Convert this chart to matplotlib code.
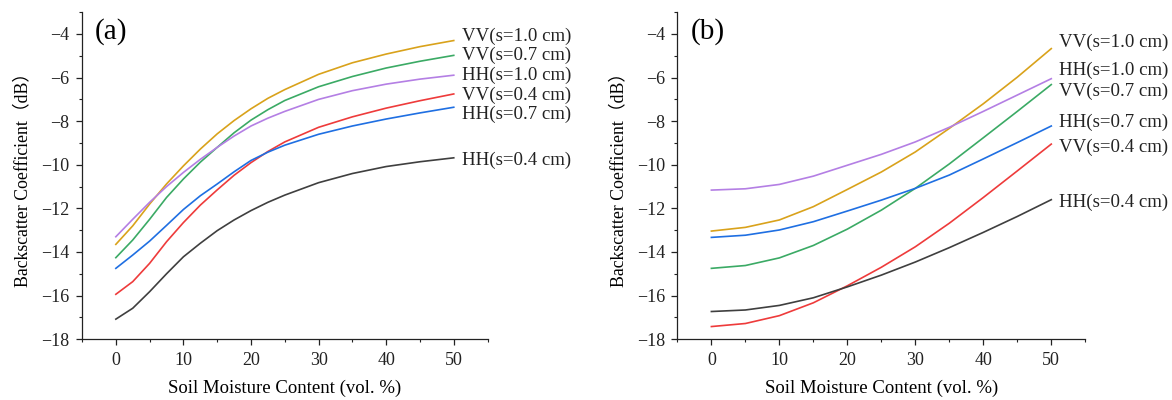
import matplotlib
matplotlib.use("Agg")
import matplotlib.pyplot as plt
from matplotlib.ticker import MultipleLocator

plt.rcParams['font.family'] = ['Liberation Serif', 'Noto Sans CJK SC', 'DejaVu Sans']
plt.rcParams['axes.unicode_minus'] = True

# ---- data: panel (a) ----
x_a = [0, 2.5, 5, 7.5, 10, 12.5, 15, 17.5, 20, 22.5, 25, 30, 35, 40, 45, 50]
vv10_a = [-13.65, -12.8, -11.8, -10.88, -10.05, -9.28, -8.58, -7.97, -7.43, -6.95, -6.55, -5.85, -5.32, -4.92, -4.58, -4.3]
vv07_a = [-14.26, -13.45, -12.5, -11.5, -10.65, -9.88, -9.2, -8.53, -7.95, -7.47, -7.05, -6.42, -5.95, -5.56, -5.25, -4.98]
hh10_a = [-13.3, -12.5, -11.72, -11.0, -10.35, -9.75, -9.2, -8.68, -8.22, -7.86, -7.55, -7.0, -6.6, -6.3, -6.07, -5.89]
vv04_a = [-15.94, -15.36, -14.52, -13.53, -12.65, -11.85, -11.15, -10.48, -9.9, -9.39, -8.95, -8.28, -7.8, -7.4, -7.06, -6.75]
hh07_a = [-14.75, -14.14, -13.5, -12.78, -12.05, -11.42, -10.88, -10.32, -9.8, -9.42, -9.1, -8.6, -8.22, -7.9, -7.62, -7.36]
hh04_a = [-17.08, -16.58, -15.82, -15.0, -14.22, -13.6, -13.02, -12.53, -12.1, -11.72, -11.39, -10.82, -10.4, -10.08, -9.86, -9.68]

# ---- data: panel (b) ----
x_b = [0, 5, 10, 15, 20, 25, 30, 35, 40, 45, 50]
vv10_b = [-13.04, -12.87, -12.53, -11.92, -11.13, -10.33, -9.41, -8.33, -7.2, -5.98, -4.67]
hh10_b = [-11.16, -11.1, -10.9, -10.52, -10.02, -9.52, -8.95, -8.28, -7.55, -6.8, -6.05]
vv07_b = [-14.75, -14.62, -14.27, -13.7, -12.95, -12.08, -11.08, -9.96, -8.76, -7.55, -6.32]
hh07_b = [-13.33, -13.23, -12.99, -12.61, -12.12, -11.62, -11.08, -10.47, -9.73, -8.98, -8.22]
vv04_b = [-17.42, -17.28, -16.92, -16.33, -15.55, -14.7, -13.76, -12.68, -11.5, -10.28, -9.05]
hh04_b = [-16.73, -16.66, -16.45, -16.1, -15.6, -15.06, -14.46, -13.8, -13.1, -12.37, -11.6]

names = ["VV(s=1.0 cm)", "VV(s=0.7 cm)", "HH(s=1.0 cm)", "VV(s=0.4 cm)", "HH(s=0.7 cm)", "HH(s=0.4 cm)"]
colors = ["#D9A21B", "#3BAA65", "#B47FE4", "#EE3B3B", "#1F6FE2", "#3F3F3F"]

# label heights at the right end of each panel, same order as names
label_y_a = [-4.09, -4.98, -5.89, -6.81, -7.68, -9.79]
label_y_b = [-4.39, -6.62, -5.66, -9.18, -8.03, -11.74]

fig = plt.figure(figsize=(11.72, 4.0), dpi=100)
ax_a = fig.add_axes([0.070, 0.152, 0.346, 0.8175])
ax_b = fig.add_axes([0.578, 0.152, 0.348, 0.8175])


def draw(ax, x, series, label_y, tag):
    for y, c, name, ly in zip(series, colors, names, label_y):
        ax.plot(x, y, color=c, lw=1.2)
        ax.text(51.2, ly, name, fontsize=13.6, ha="left", va="center",
                color="#222222", clip_on=False)
    ax.set_xlim(-5, 55)
    ax.set_ylim(-18, -3)
    ax.set_xticks([0, 10, 20, 30, 40, 50])
    ax.set_yticks([-18, -16, -14, -12, -10, -8, -6, -4])
    ax.xaxis.set_minor_locator(MultipleLocator(5))
    ax.yaxis.set_minor_locator(MultipleLocator(1))
    for s in ("top", "right"):
        ax.spines[s].set_visible(False)
    for s in ("left", "bottom"):
        ax.spines[s].set_linewidth(0.9)
        ax.spines[s].set_color("#222222")
    ax.tick_params(which="major", direction="out", length=4, width=0.9,
                   labelsize=13, pad=5, colors="#222222")
    ax.tick_params(which="minor", direction="out", length=2.2, width=0.8,
                   colors="#222222")
    ax.set_xlabel("Soil Moisture Content (vol. %)", fontsize=13.5, labelpad=8)
    ax.set_ylabel("Backscatter Coefficient（dB）", fontsize=12.8, labelpad=7)
    ax.text(0.032, 0.94, tag, transform=ax.transAxes, fontsize=21,
            ha="left", va="center")


draw(ax_a, x_a, [vv10_a, vv07_a, hh10_a, vv04_a, hh07_a, hh04_a], label_y_a, "(a)")
draw(ax_b, x_b, [vv10_b, vv07_b, hh10_b, vv04_b, hh07_b, hh04_b], label_y_b, "(b)")

fig.savefig("out.png", dpi=100)
